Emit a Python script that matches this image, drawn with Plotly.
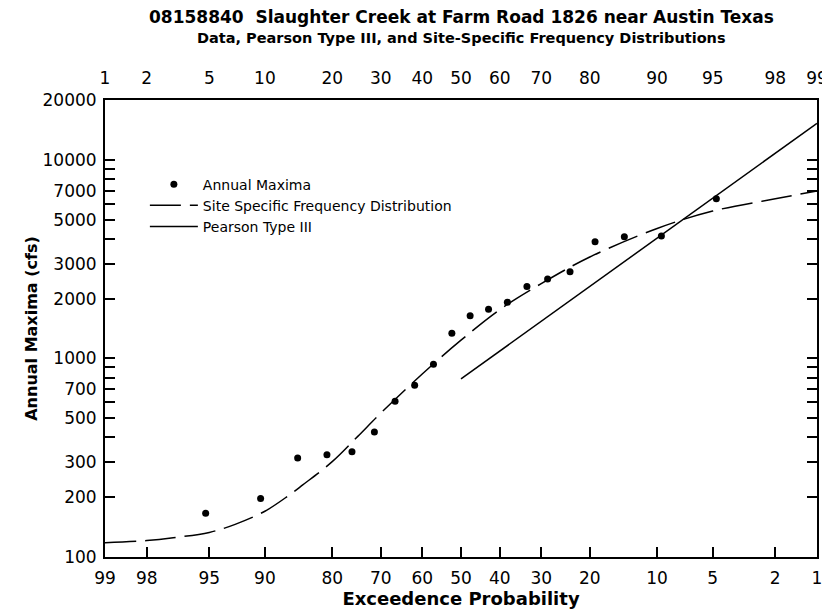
import plotly.graph_objects as go
from statistics import NormalDist

# annual maxima (cfs), ranked, with exceedance probability (%)
obs_exceed = [4.76, 9.52, 14.29, 19.05, 23.81, 28.57, 33.33, 38.10, 42.86, 47.62,
              52.38, 57.14, 61.90, 66.67, 71.43, 76.19, 80.95, 85.71, 90.48, 95.24]
obs_flow = [6370, 4130, 4100, 3870, 2730, 2510, 2300, 1920, 1770, 1640,
            1340, 934, 732, 608, 426, 339, 327, 315, 197, 166]

# site specific frequency distribution
ssfd_exceed = [99, 98, 97, 95, 93, 90, 87, 85, 80, 75, 70, 60, 50, 40, 30, 20, 10, 5, 2, 1]
ssfd_flow = [118, 121, 125, 133, 146, 170, 204, 230, 302, 405, 530, 835, 1235, 1760,
             2380, 3240, 4510, 5520, 6360, 6970]

# pearson type III
p3_exceed = [50, 20, 10, 5, 2, 1]
p3_flow = [788, 2300, 4030, 6410, 10800, 15270]

prob_ticks = [1, 2, 5, 10, 20, 30, 40, 50, 60, 70, 80, 90, 95, 98, 99]
y_ticks = [100, 200, 300, 400, 500, 600, 700, 800, 900, 1000, 2000, 3000, 4000,
           5000, 6000, 7000, 8000, 9000, 10000, 20000]
y_labels = ['100', '200', '300', '', '500', '', '700', '', '', '1000', '2000', '3000', '',
            '5000', '', '7000', '', '', '10000', '20000']

title1 = '08158840\u00a0 Slaughter Creek at Farm Road 1826 near Austin Texas'
title2 = 'Data, Pearson Type III, and Site-Specific Frequency Distributions'

nd = NormalDist()


def z_exc(p):
    # exceedance percent -> standard normal variate of non-exceedance
    return [nd.inv_cdf(1 - v / 100.0) for v in p]


zlim = nd.inv_cdf(0.99)
font = 'DejaVu Sans, Liberation Sans, Arial, sans-serif'

fig = go.Figure()
fig.add_trace(go.Scatter(x=z_exc(obs_exceed), y=obs_flow, mode='markers',
                         marker=dict(color='black', size=7), name='Annual Maxima'))
fig.add_trace(go.Scatter(x=z_exc(ssfd_exceed), y=ssfd_flow, mode='lines', line_shape='spline',
                         line=dict(color='black', width=1.5, dash='31px,9px'),
                         name='Site Specific Frequency Distribution'))
fig.add_trace(go.Scatter(x=z_exc(p3_exceed), y=p3_flow, mode='lines',
                         line=dict(color='black', width=1.5), name='Pearson Type III'))
# invisible trace to carry the top axis
fig.add_trace(go.Scatter(x=[0], y=[1000], xaxis='x2', mode='markers',
                         marker=dict(opacity=0), showlegend=False, hoverinfo='skip'))

# page body shifts the figure by 8px, so it is trimmed to fit the window
fig.update_layout(
    width=822, height=607,
    margin=dict(l=97, r=13, t=92, b=58),
    paper_bgcolor='white', plot_bgcolor='white',
    font=dict(family=font, color='black', size=17),
    xaxis=dict(range=[-zlim, zlim], tickvals=z_exc(prob_ticks[::-1]),
               ticktext=[str(v) for v in prob_ticks[::-1]],
               ticks='inside', ticklen=10, tickwidth=1.5, tickcolor='black',
               ticklabelstandoff=5, automargin=False,
               showline=True, linecolor='black', linewidth=2, mirror=True,
               showgrid=False, zeroline=False,
               title=dict(text='<b>Exceedence Probability</b>', font=dict(size=18), standoff=3)),
    xaxis2=dict(range=[-zlim, zlim], overlaying='x', side='top', automargin=False,
                tickvals=[nd.inv_cdf(v / 100.0) for v in prob_ticks],
                ticktext=[str(v) for v in prob_ticks],
                ticks='', ticklabelstandoff=12, showline=False, showgrid=False, zeroline=False),
    yaxis=dict(type='log', range=[2, 4.30103], tickvals=y_ticks, ticktext=y_labels,
               ticks='inside', ticklen=10, tickwidth=1.5, tickcolor='black',
               ticklabelstandoff=3, automargin=False,
               showline=True, linecolor='black', linewidth=2, mirror='ticks',
               showgrid=False, zeroline=False,
               title=dict(text='<b>Annual Maxima (cfs)</b>', font=dict(size=16), standoff=1)),
    legend=dict(x=0.056, y=0.85, xanchor='left', yanchor='top', bgcolor='rgba(0,0,0,0)',
                font=dict(size=14), itemwidth=48, tracegroupgap=0),
    showlegend=True,
    annotations=[
        dict(text='<b>' + title1 + '</b>', xref='paper', yref='paper', x=0.5, y=1.182,
             xanchor='center', yanchor='middle', showarrow=False, font=dict(size=17)),
        dict(text='<b>' + title2 + '</b>', xref='paper', yref='paper', x=0.5, y=1.136,
             xanchor='center', yanchor='middle', showarrow=False, font=dict(size=14.5)),
    ],
)

fig.write_html("out.html")
